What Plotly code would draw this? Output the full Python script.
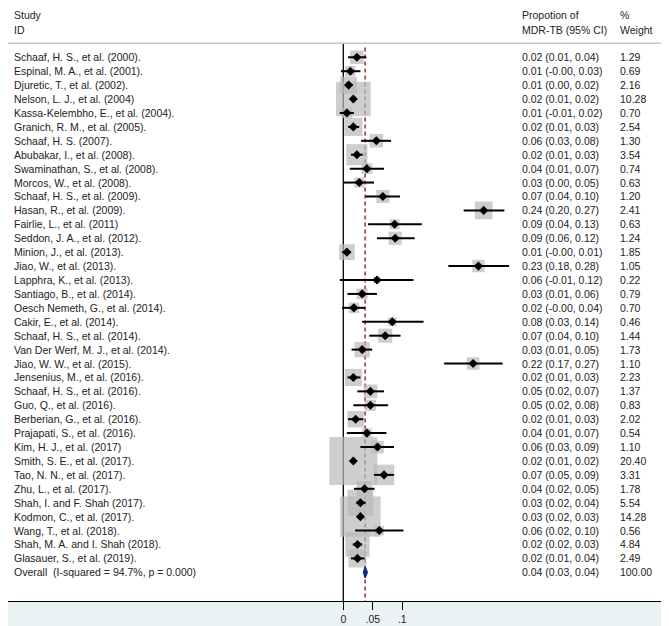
import numpy as np
import plotly.graph_objects as go

# study labels, point estimates and 95% CI (proportion of MDR-TB), weights
studies = [
    "Schaaf, H. S., et al. (2000).", "Espinal, M. A., et al. (2001).",
    "Djuretic, T., et al. (2002).", "Nelson, L. J., et al. (2004)",
    "Kassa-Kelembho, E., et al. (2004).", "Granich, R. M., et al. (2005).",
    "Schaaf, H. S. (2007).", "Abubakar, I., et al. (2008).",
    "Swaminathan, S., et al. (2008).", "Morcos, W., et al. (2008).",
    "Schaaf, H. S., et al. (2009).", "Hasan, R., et al. (2009).",
    "Fairlie, L., et al. (2011)", "Seddon, J. A., et al. (2012).",
    "Minion, J., et al. (2013).", "Jiao, W., et al. (2013).",
    "Lapphra, K., et al. (2013).", "Santiago, B., et al. (2014).",
    "Oesch Nemeth, G., et al. (2014).", "Cakir, E., et al. (2014).",
    "Schaaf, H. S., et al. (2014).", "Van Der Werf, M. J., et al. (2014).",
    "Jiao, W. W., et al. (2015).", "Jensenius, M., et al. (2016).",
    "Schaaf, H. S., et al. (2016).", "Guo, Q., et al. (2016).",
    "Berberian, G., et al. (2016).", "Prajapati, S., et al. (2016).",
    "Kim, H. J., et al. (2017)", "Smith, S. E., et al. (2017).",
    "Tao, N. N., et al. (2017).", "Zhu, L., et al. (2017).",
    "Shah, I. and F. Shah (2017).", "Kodmon, C., et al. (2017).",
    "Wang, T., et al. (2018).", "Shah, M. A. and I. Shah (2018).",
    "Glasauer, S., et al. (2019).",
]
est = [0.023, 0.012, 0.009, 0.017, 0.006, 0.017, 0.056, 0.023, 0.040, 0.027,
       0.067, 0.238, 0.087, 0.088, 0.006, 0.229, 0.057, 0.032, 0.018, 0.083,
       0.071, 0.032, 0.220, 0.017, 0.046, 0.046, 0.021, 0.040, 0.058, 0.017,
       0.069, 0.036, 0.029, 0.029, 0.061, 0.024, 0.024]
ci_low = [0.008, -0.004, 0.003, 0.012, -0.006, 0.008, 0.030, 0.013, 0.011, 0.001,
          0.038, 0.204, 0.042, 0.057, -0.002, 0.178, -0.006, 0.007, -0.002, 0.032,
          0.044, 0.014, 0.171, 0.007, 0.024, 0.017, 0.008, 0.006, 0.029, 0.013,
          0.052, 0.018, 0.022, 0.024, 0.020, 0.016, 0.013]
ci_high = [0.039, 0.029, 0.016, 0.021, 0.018, 0.027, 0.081, 0.033, 0.069, 0.052,
           0.096, 0.273, 0.133, 0.121, 0.013, 0.281, 0.119, 0.057, 0.037, 0.136,
           0.097, 0.049, 0.270, 0.029, 0.069, 0.076, 0.034, 0.073, 0.086, 0.021,
           0.086, 0.053, 0.038, 0.033, 0.102, 0.032, 0.036]
weights = [1.29, 0.69, 2.16, 10.28, 0.70, 2.54, 1.30, 3.54, 0.74, 0.63, 1.20, 2.41,
           0.63, 1.24, 1.85, 1.05, 0.22, 0.79, 0.70, 0.46, 1.44, 1.73, 1.10, 2.23,
           1.37, 0.83, 2.02, 0.54, 1.10, 20.40, 3.31, 1.78, 5.54, 14.28, 0.56, 4.84,
           2.49]

overall_est, overall_low, overall_high = 0.037, 0.034, 0.041
overall_weight = 100.00
i_squared, p_value = 94.7, 0.000

tick_vals = [0, 0.05, 0.1]
tick_text = ["0", ".05", ".1"]

FONT = "Liberation Sans, Arial, sans-serif"
TXT = "#222222"
W, H = 661, 618          # page body adds 8px margin on top/left
X0_PX, PX_PER_UNIT = 335.3, 590
n = len(studies)
rows = list(range(1, n + 1))
overall_row = n + 1
y_bottom, y_top = 40.06, -2.54

fig = go.Figure()

# weight boxes
fig.add_trace(go.Scatter(
    x=est, y=rows, mode="markers",
    marker=dict(symbol="square", color="#b9b9b9",
                size=[10.2 * np.sqrt(w) + 1.9 for w in weights], line_width=0),
    hoverinfo="skip", showlegend=False,
))

# confidence interval lines
xs, ys = [], []
for r, lo, hi in zip(rows, ci_low, ci_high):
    xs += [lo, hi, None]
    ys += [r, r, None]
fig.add_trace(go.Scatter(x=xs, y=ys, mode="lines", line=dict(color="black", width=2),
                         hoverinfo="skip", showlegend=False))

# point estimates
fig.add_trace(go.Scatter(x=est, y=rows, mode="markers",
                         marker=dict(symbol="diamond", color="black", size=7),
                         hoverinfo="skip", showlegend=False))

# overall diamond
h = 0.41
fig.add_trace(go.Scatter(
    x=[overall_low, overall_est, overall_high, overall_est, overall_low],
    y=[overall_row, overall_row - h, overall_row, overall_row + h, overall_row],
    mode="lines", fill="toself", fillcolor="#1c2a9c",
    line=dict(color="#0a1470", width=1), hoverinfo="skip", showlegend=False,
))

# reference lines
fig.add_shape(type="line", xref="x", yref="y", x0=0, x1=0, y0=0, y1=y_bottom,
              line=dict(color="black", width=1.3), layer="below")
fig.add_shape(type="line", xref="x", yref="y", x0=overall_est, x1=overall_est,
              y0=0.3, y1=y_bottom, line=dict(color="#a52a2a", width=1.5, dash="4px,3px"),
              layer="below")
# header rule and right frame edge
fig.add_shape(type="line", xref="paper", yref="y", x0=0, x1=0.997, y0=0, y1=0,
              line=dict(color="#c4c4c4", width=1.5))
fig.add_shape(type="line", xref="paper", yref="y", x0=0.997, x1=0.997, y0=y_top,
              y1=y_bottom, line=dict(color="#d9d9d9", width=1))


def label(x, y, text):
    fig.add_annotation(x=x, y=y, xref="paper", yref="y", text=text, showarrow=False,
                       xanchor="left", yanchor="middle",
                       font=dict(family=FONT, size=10.5, color=TXT))


x_study, x_ci, x_w = 4 / W, 512 / W, 610 / W

label(x_study, -2.04, "Study")
label(x_study, -0.96, "ID")
label(x_ci, -2.04, "Propotion of")
label(x_ci, -0.96, "MDR-TB (95% CI)")
label(x_w, -2.04, "%")
label(x_w, -0.96, "Weight")

for r, s, e, lo, hi, w in zip(rows, studies, est, ci_low, ci_high, weights):
    label(x_study, r, s)
    label(x_ci, r, f"{e:.2f} ({lo:.2f}, {hi:.2f})")
    label(x_w, r, f"{w:.2f}")

label(x_study, overall_row,
      f"Overall\u00a0 (I-squared = {i_squared:.1f}%, p = {p_value:.3f})")
label(x_ci, overall_row, f"{overall_est:.2f} ({overall_low:.2f}, {overall_high:.2f})")
label(x_w, overall_row, f"{overall_weight:.2f}")

fig.update_layout(
    width=W, height=H,
    margin=dict(l=0, r=0, t=0, b=25),
    paper_bgcolor="#eaf2f3", plot_bgcolor="white",
    font=dict(family=FONT, size=10.5, color=TXT),
    xaxis=dict(range=[-X0_PX / PX_PER_UNIT, (W - X0_PX) / PX_PER_UNIT],
               showgrid=False, zeroline=False,
               showline=True, linecolor="black", linewidth=1.3,
               ticks="outside", ticklen=8, tickwidth=1.3, tickcolor="black",
               tickvals=tick_vals, ticktext=tick_text,
               tickfont=dict(family=FONT, size=10.5, color=TXT)),
    yaxis=dict(range=[y_bottom, y_top], visible=False),
)

fig.write_html("out.html")
